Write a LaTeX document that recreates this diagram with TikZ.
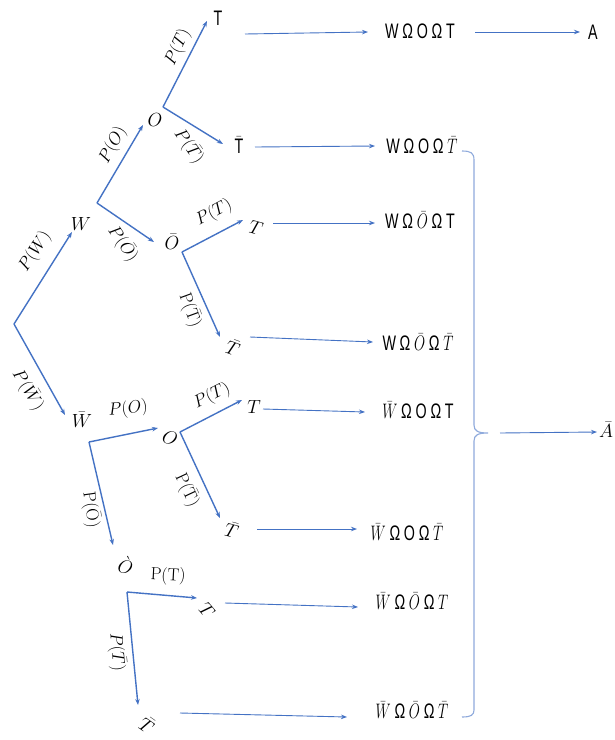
\RequirePackage{fix-cm}
\documentclass[tikz,border=0pt]{standalone}
\usepackage{fontspec}
\usetikzlibrary{arrows.meta}
\newfontfamily\leaffont{Liberation Sans}
\definecolor{lnblue}{HTML}{4472C4}
\definecolor{brblue}{HTML}{8FAADC}
\newcommand{\lvtext}[1]{\scalebox{0.68}[1]{\fontsize{21}{21}\selectfont\leaffont #1}}
\newcommand{\gp}{\hspace{5.5pt}}
\newcommand{\sT}{\hbox{\leaffont T}}
\begin{document}
\begin{tikzpicture}[x=1pt,y=-1pt,
 tarr/.style={draw=lnblue,line width=1.4pt,-{Stealth[length=6pt,width=4.5pt]}},
 harr/.style={draw=lnblue,line width=0.9pt,-{Stealth[length=6pt,width=4.5pt]}},
 lab/.style={inner sep=0pt,font=\fontsize{17.5}{17.5}\selectfont},
 st/.style={inner sep=0pt,font=\fontsize{19}{19}\selectfont},
 leaf/.style={inner sep=0pt}]
\useasboundingbox (0,0) rectangle (615,740);
\fill[white] (0,0) rectangle (615,740);
% forks
\coordinate (root) at (14,324);
\coordinate (fW) at (97,203);
\coordinate (fO1) at (163,107);
\coordinate (fO2) at (182,252);
\coordinate (fWb) at (89,442);
\coordinate (fO3) at (180,432);
\coordinate (fO4) at (127,592);
% tips
\coordinate (tW) at (72,232);
\coordinate (tWb) at (65,415);
\coordinate (tO1) at (143,125);
\coordinate (tOb1) at (154,242);
\coordinate (tT1) at (207,21);
\coordinate (tTb1) at (223,144);
\coordinate (tT2) at (243,220);
\coordinate (tTb2) at (220,337);
\coordinate (tO3) at (158,428);
\coordinate (tOb3) at (113,545);
\coordinate (tT3) at (242,400);
\coordinate (tTb3) at (220,518);
\coordinate (tT4) at (197,598);
\coordinate (tTb4) at (138,705);
% tree state labels
\node[st] (nW) at (81,224) {$W$};
\node[st] (nWb) at (82,420) {$\bar W$};
\node[st] (nO1) at (155,120) {$O$};
\node[st] (nOb1) at (172,242) {$\bar O$};
\node[st] (nT1) at (218,18) {\lvtext{T}};
\node[st] (nTb1) at (239,145) {\lvtext{$\bar{\sT}$}};
\node[st,rotate=-15] (nT2) at (256,228) {$T$};
\node[st,rotate=-20] (nTb2) at (233,348) {$\bar T$};
\node[st,rotate=-20] (nO3) at (170,438) {$O$};
\node[st] (nT3) at (254,407) {$T$};
\node[st,rotate=-15] (nTb3) at (232,530) {$\bar T$};
\node[st,rotate=-15] (nOb3) at (126,565) {$\grave O$};
\node[st,rotate=-50] (nT4) at (207,610) {$T$};
\node[st,rotate=-35] (nTb4) at (147,725) {$\bar T$};
% tree edges
\draw[tarr] (root) -- (tW);
\draw[tarr] (root) -- (tWb);
\draw[tarr] (fW) -- (tO1);
\draw[tarr] (fW) -- (tOb1);
\draw[tarr] (fO1) -- (tT1);
\draw[tarr] (fO1) -- (tTb1);
\draw[tarr] (fO2) -- (tT2);
\draw[tarr] (fO2) -- (tTb2);
\draw[tarr] (fWb) -- (tO3);
\draw[tarr] (fWb) -- (tOb3);
\draw[tarr] (fO3) -- (tT3);
\draw[tarr] (fO3) -- (tTb3);
\draw[tarr] (fO4) -- (tT4);
\draw[tarr] (fO4) -- (tTb4);
% probability labels
\node[lab,rotate=57] (pW) at (35,252) {$P(W)$};
\node[lab,rotate=-58] (pWb) at (28,390) {$P(\bar W)$};
\node[lab,rotate=62] (pO1) at (113,145) {$P(O)$};
\node[lab,rotate=-55] (pOb1) at (123,244) {$P(\bar O)$};
\node[lab,rotate=65] (pT1) at (178,47) {$P(T)$};
\node[lab,rotate=-55] (pTb1) at (189,146) {$P(\bar T)$};
\node[lab,rotate=28] (pT2) at (214,213) {$P(T)$};
\node[lab,rotate=-70] (pTb2) at (190,310) {$\mathrm{P}(\bar{\mathrm{T}})$};
\node[lab,rotate=6] (pO3) at (128,409) {$P(O)$};
\node[lab,rotate=27] (pT3) at (212,396) {$P(T)$};
\node[lab,rotate=-65] (pTb3) at (187,490) {$\mathrm{P}(\bar{\mathrm{T}})$};
\node[lab,rotate=-82] (pOb3) at (91,510) {$\mathrm{P}(\bar{\mathrm{O}})$};
\node[lab,rotate=-3] (pT4) at (168,576) {$\mathrm{P}(\mathrm{T})$};
\node[lab,rotate=-85] (pTb4) at (117,652) {$P(\bar T)$};
% leaves
\node[leaf] (L1) at (420,31) {\lvtext{W\gp Ω\gp O\gp Ω\gp T}};
\node[leaf] (L2) at (422,145) {\lvtext{W\gp Ω\gp O\gp Ω\gp$\bar T$}};
\node[leaf] (L3) at (420,220) {\lvtext{W\gp Ω\gp$\bar O$\gp Ω\gp T}};
\node[leaf] (L4) at (418,342) {\lvtext{W\gp Ω\gp$\bar O$\gp Ω\gp$\bar T$}};
\node[leaf] (L5) at (418,410) {\lvtext{$\bar W$\gp Ω\gp O\gp Ω\gp T}};
\node[leaf] (L6) at (407,532) {\lvtext{$\bar W$\gp Ω\gp O\gp Ω\gp$\bar T$}};
\node[leaf] (L7) at (412,601) {\lvtext{$\bar W$\gp Ω\gp$\bar O$\gp Ω\gp$T$}};
\node[leaf] (L8) at (412,710) {\lvtext{$\bar W$\gp Ω\gp$\bar O$\gp Ω\gp$\bar T$}};
\node[leaf] (A) at (593,32) {\lvtext{A}};
\node[st] (Ab) at (606,430) {$\bar A$};
% horizontal arrow ends
\coordinate (hs1) at (245,34); \coordinate (he1) at (368,32);
\coordinate (hs2) at (255,147); \coordinate (he2) at (375,146);
\coordinate (hs3) at (273,223); \coordinate (he3) at (375,223);
\coordinate (hs4) at (250,337); \coordinate (he4) at (373,342);
\coordinate (hs5) at (263,409); \coordinate (he5) at (365,412);
\coordinate (hs6) at (257,529); \coordinate (he6) at (357,529);
\coordinate (hs7) at (225,603); \coordinate (he7) at (358,607);
\coordinate (hs8) at (180,713); \coordinate (he8) at (347,717);
\coordinate (hsA) at (475,32); \coordinate (heA) at (580,32);
\coordinate (brtip) at (488,433);
\coordinate (heAb) at (597,432);
\draw[harr] (hs1) -- (he1);
\draw[harr] (hs2) -- (he2);
\draw[harr] (hs3) -- (he3);
\draw[harr] (hs4) -- (he4);
\draw[harr] (hs5) -- (he5);
\draw[harr] (hs6) -- (he6);
\draw[harr] (hs7) -- (he7);
\draw[harr] (hs8) -- (he8);
\draw[harr] (hsA) -- (heA);
\draw[harr] ([xshift=12pt]brtip) -- (heAb);
% brace
\draw[brblue,line width=1.1pt]
 (462,151) .. controls (471,151) and (474,153) .. (474,160)
 -- (474,425) .. controls (474,431) and (478,433) .. (brtip)
 .. controls (478,433) and (474,435) .. (474,441)
 -- (474,710) .. controls (474,715) and (471,717) .. (462,717);
\end{tikzpicture}
\end{document}
